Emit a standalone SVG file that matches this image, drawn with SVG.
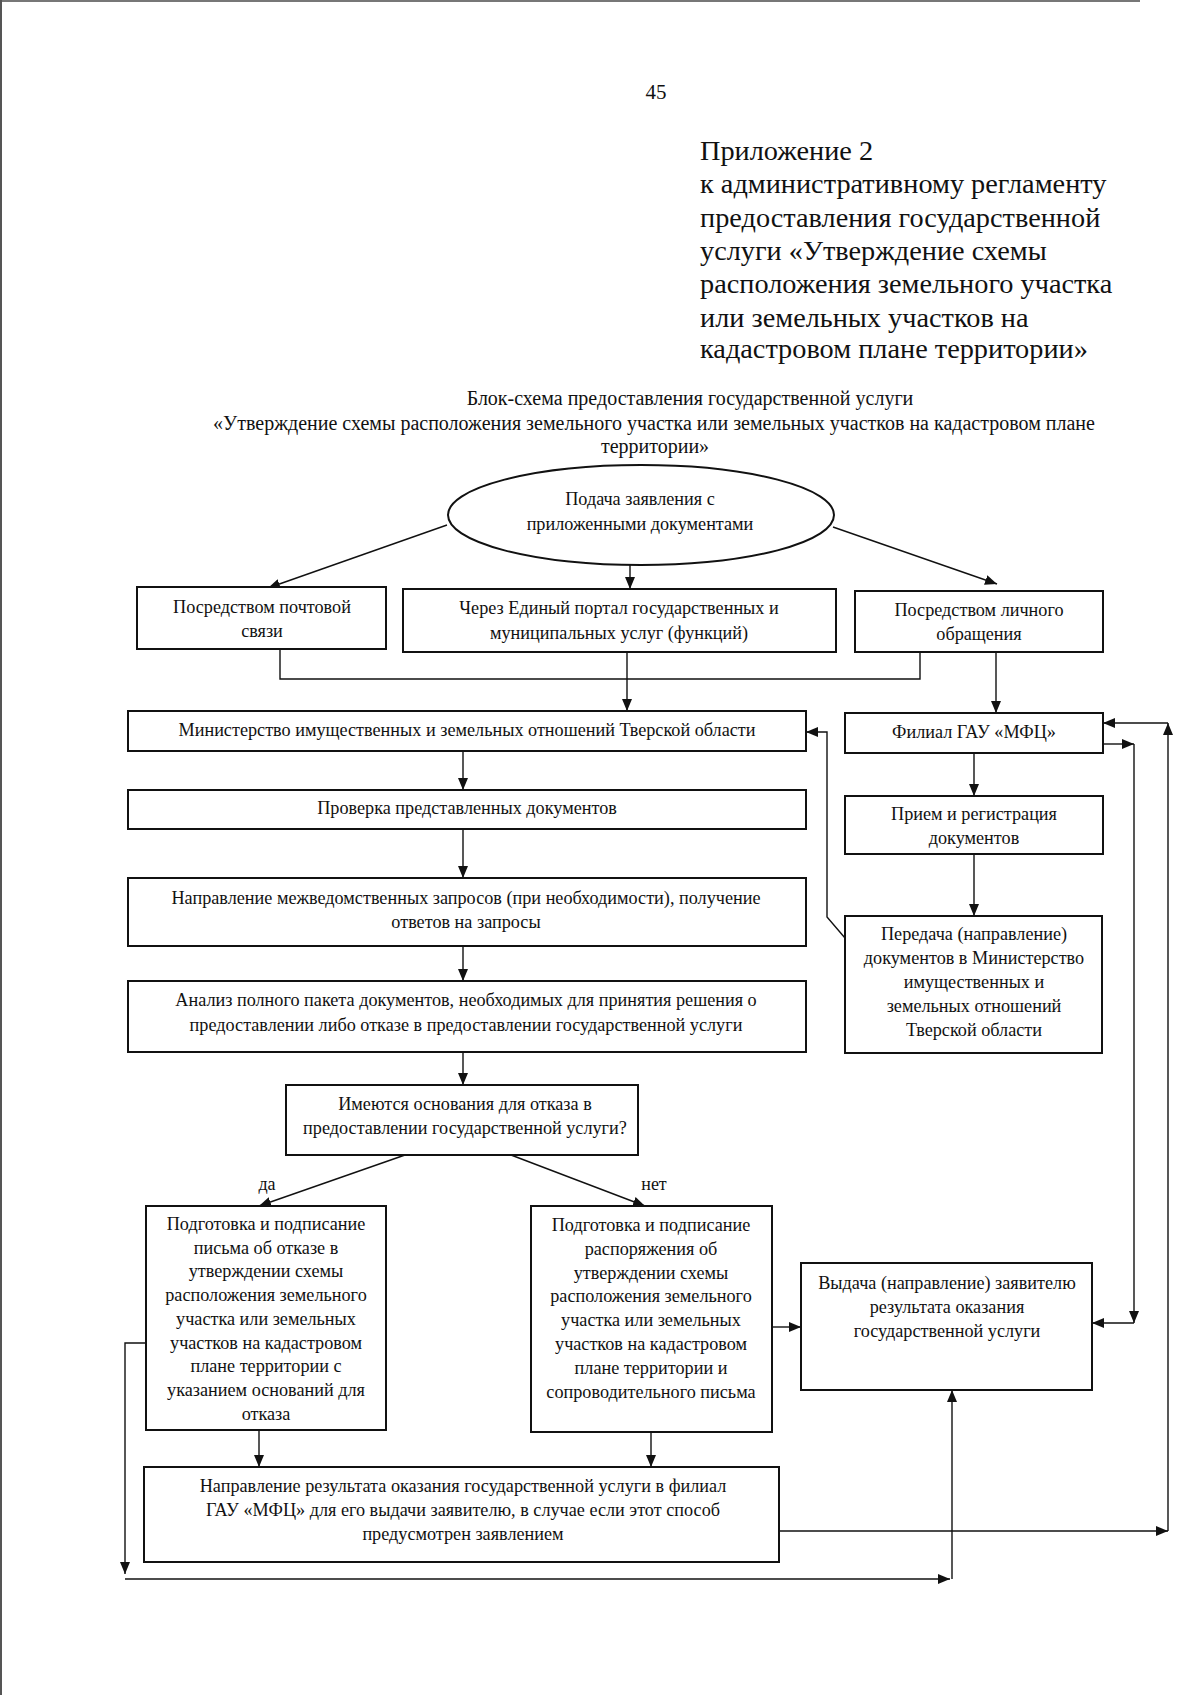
<svg xmlns="http://www.w3.org/2000/svg" width="1200" height="1695" viewBox="0 0 1200 1695">
<defs>
<style>
text{font-family:"Liberation Serif","Times New Roman",serif;fill:#111;}
.hd{font-size:28.3px;}
.tt{font-size:20px;text-anchor:middle;}
.t{font-size:18.2px;text-anchor:middle;}
.box{fill:#fff;stroke:#111;stroke-width:2;}
.ln{fill:none;stroke:#111;stroke-width:1.4;}
.ar{fill:none;stroke:#111;stroke-width:1.4;marker-end:url(#ah);}
</style>
<marker id="ah" markerUnits="userSpaceOnUse" markerWidth="12" markerHeight="10" refX="12" refY="5" orient="auto">
<path d="M0,0 L12,5 L0,10 z" fill="#111"/>
</marker>
</defs>
<rect width="1200" height="1695" fill="#fff"/>
<line x1="0" y1="1" x2="1140" y2="1" stroke="#777" stroke-width="2"/>
<line x1="1" y1="0" x2="1" y2="1695" stroke="#555" stroke-width="2"/>

<text x="656" y="99" style="font-size:21px" text-anchor="middle">45</text>
<g id="header">
<text class="hd" x="700" y="160">Приложение 2</text>
<text class="hd" x="700" y="193">к административному регламенту</text>
<text class="hd" x="700" y="227">предоставления государственной</text>
<text class="hd" x="700" y="260">услуги «Утверждение схемы</text>
<text class="hd" x="700" y="293">расположения земельного участка</text>
<text class="hd" x="700" y="327">или земельных участков на</text>
<text class="hd" x="700" y="358">кадастровом плане территории»</text>
</g>
<g id="title">
<text class="tt" x="690" y="405">Блок-схема предоставления государственной услуги</text>
<text class="tt" x="654" y="430">«Утверждение схемы расположения земельного участка или земельных участков на кадастровом плане</text>
<text class="tt" x="655" y="453">территории»</text>
</g>

<g id="connectors">
<line class="ar" x1="447" y1="525" x2="268" y2="588"/>
<line class="ar" x1="630" y1="565" x2="630" y2="589"/>
<line class="ar" x1="833" y1="527" x2="997" y2="584"/>
<polyline class="ln" points="280,649 280,679 920,679 920,652"/>
<line class="ar" x1="627" y1="652" x2="627" y2="711"/>
<line class="ar" x1="996" y1="652" x2="996" y2="713"/>
<polyline class="ar" points="845,938 827,917 827,732 806,732"/>
<line class="ar" x1="1168" y1="723" x2="1103" y2="723"/>
<line class="ar" x1="1168" y1="1531" x2="1168" y2="723"/>
<line class="ar" x1="779" y1="1531" x2="1168" y2="1531"/>
<line class="ar" x1="1103" y1="744" x2="1134" y2="744"/>
<line class="ar" x1="1134" y1="744" x2="1134" y2="1323"/>
<line class="ar" x1="1134" y1="1323" x2="1092" y2="1323"/>
<line class="ar" x1="974" y1="753" x2="974" y2="796"/>
<line class="ar" x1="974" y1="854" x2="974" y2="916"/>
<line class="ar" x1="463" y1="751" x2="463" y2="790"/>
<line class="ar" x1="463" y1="829" x2="463" y2="878"/>
<line class="ar" x1="463" y1="946" x2="463" y2="981"/>
<line class="ar" x1="463" y1="1052" x2="463" y2="1085"/>
<line class="ar" x1="405" y1="1155" x2="259" y2="1206"/>
<line class="ar" x1="511" y1="1155" x2="645" y2="1206"/>
<line class="ar" x1="772" y1="1327" x2="801" y2="1327"/>
<line class="ar" x1="259" y1="1430" x2="259" y2="1467"/>
<line class="ar" x1="651" y1="1432" x2="651" y2="1467"/>
<polyline class="ar" points="146,1343 125,1343 125,1574"/>
<line class="ar" x1="125" y1="1579" x2="950" y2="1579"/>
<line class="ar" x1="952" y1="1579" x2="952" y2="1390"/>
<text x="267" y="1190" style="font-size:18px" text-anchor="middle">да</text>
<text x="654" y="1190" style="font-size:18px" text-anchor="middle">нет</text>
</g>

<g id="n-start">
<ellipse class="box" cx="641" cy="515" rx="193" ry="50"/>
<text class="t" x="640" y="505">Подача заявления с</text>
<text class="t" x="640" y="530">приложенными документами</text>
</g>
<g id="n-post">
<rect class="box" x="137" y="587" width="249" height="62"/>
<text class="t" x="262" y="613">Посредством почтовой</text>
<text class="t" x="262" y="637">связи</text>
</g>
<g id="n-portal">
<rect class="box" x="403" y="589" width="433" height="63"/>
<text class="t" x="619" y="614">Через Единый портал государственных и</text>
<text class="t" x="619" y="639">муниципальных услуг (функций)</text>
</g>
<g id="n-personal">
<rect class="box" x="855" y="591" width="248" height="61"/>
<text class="t" x="979" y="616">Посредством личного</text>
<text class="t" x="979" y="640">обращения</text>
</g>
<g id="n-ministry">
<rect class="box" x="128" y="711" width="678" height="40"/>
<text class="t" x="467" y="736">Министерство имущественных и земельных отношений Тверской области</text>
</g>
<g id="n-mfc">
<rect class="box" x="845" y="713" width="258" height="40"/>
<text class="t" x="974" y="738">Филиал ГАУ «МФЦ»</text>
</g>
<g id="n-check">
<rect class="box" x="128" y="790" width="678" height="39"/>
<text class="t" x="467" y="814">Проверка представленных документов</text>
</g>
<g id="n-reception">
<rect class="box" x="845" y="796" width="258" height="58"/>
<text class="t" x="974" y="820">Прием и регистрация</text>
<text class="t" x="974" y="844">документов</text>
</g>
<g id="n-requests">
<rect class="box" x="128" y="878" width="678" height="68"/>
<text class="t" x="466" y="904">Направление межведомственных запросов (при необходимости), получение</text>
<text class="t" x="466" y="928">ответов на запросы</text>
</g>
<g id="n-transfer">
<rect class="box" x="845" y="916" width="257" height="137"/>
<text class="t" x="974" y="940">Передача (направление)</text>
<text class="t" x="974" y="964">документов в Министерство</text>
<text class="t" x="974" y="988">имущественных и</text>
<text class="t" x="974" y="1012">земельных отношений</text>
<text class="t" x="974" y="1036">Тверской области</text>
</g>
<g id="n-analysis">
<rect class="box" x="128" y="981" width="678" height="71"/>
<text class="t" x="466" y="1006">Анализ полного пакета документов, необходимых для принятия решения о</text>
<text class="t" x="466" y="1031">предоставлении либо отказе в предоставлении государственной услуги</text>
</g>
<g id="n-decision">
<rect class="box" x="286" y="1085" width="352" height="70"/>
<text class="t" x="465" y="1110">Имеются основания для отказа в</text>
<text class="t" x="465" y="1134">предоставлении государственной услуги?</text>
</g>
<g id="n-refuse">
<rect class="box" x="146" y="1206" width="240" height="224"/>
<text class="t" x="266" y="1230">Подготовка и подписание</text>
<text class="t" x="266" y="1254">письма об отказе в</text>
<text class="t" x="266" y="1277">утверждении схемы</text>
<text class="t" x="266" y="1301">расположения земельного</text>
<text class="t" x="266" y="1325">участка или земельных</text>
<text class="t" x="266" y="1349">участков на кадастровом</text>
<text class="t" x="266" y="1372">плане территории с</text>
<text class="t" x="266" y="1396">указанием оснований для</text>
<text class="t" x="266" y="1420">отказа</text>
</g>
<g id="n-approve">
<rect class="box" x="531" y="1206" width="241" height="226"/>
<text class="t" x="651" y="1231">Подготовка и подписание</text>
<text class="t" x="651" y="1255">распоряжения об</text>
<text class="t" x="651" y="1279">утверждении схемы</text>
<text class="t" x="651" y="1302">расположения земельного</text>
<text class="t" x="651" y="1326">участка или земельных</text>
<text class="t" x="651" y="1350">участков на кадастровом</text>
<text class="t" x="651" y="1374">плане территории и</text>
<text class="t" x="651" y="1398">сопроводительного письма</text>
</g>
<g id="n-issue">
<rect class="box" x="801" y="1263" width="291" height="127"/>
<text class="t" x="947" y="1289">Выдача (направление) заявителю</text>
<text class="t" x="947" y="1313">результата оказания</text>
<text class="t" x="947" y="1337">государственной услуги</text>
</g>
<g id="n-send">
<rect class="box" x="144" y="1467" width="635" height="95"/>
<text class="t" x="463" y="1492">Направление результата оказания государственной услуги в филиал</text>
<text class="t" x="463" y="1516">ГАУ «МФЦ» для его выдачи заявителю, в случае если этот способ</text>
<text class="t" x="463" y="1540">предусмотрен заявлением</text>
</g>
</svg>
